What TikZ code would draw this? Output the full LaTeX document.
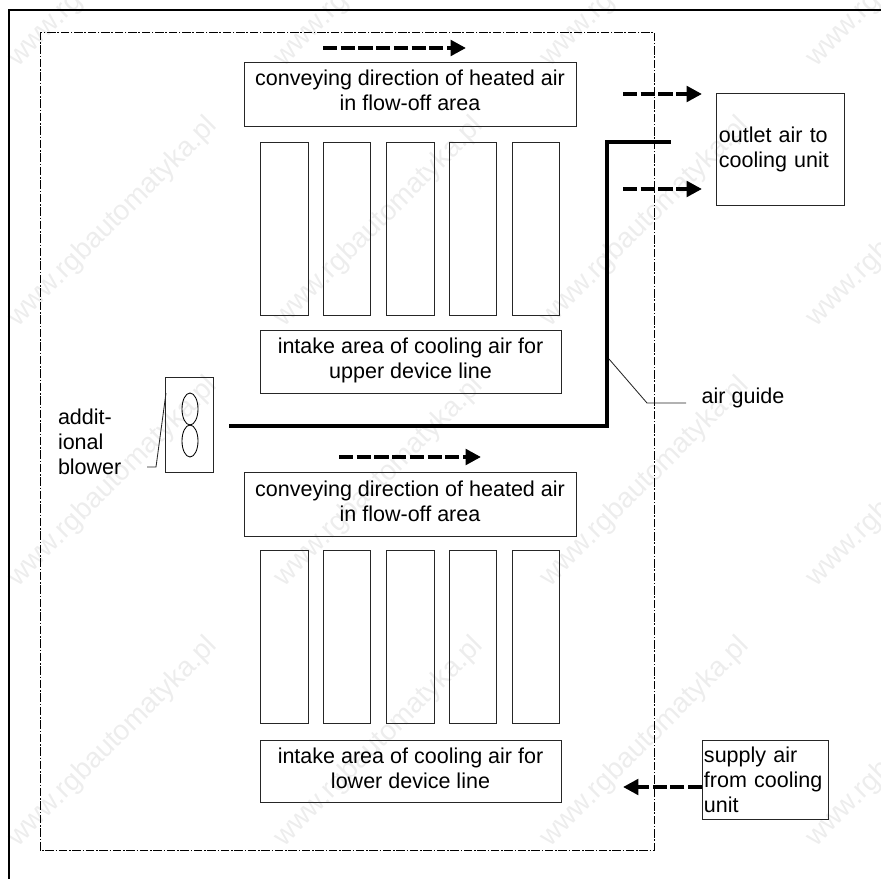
\documentclass[tikz,border=0pt]{standalone}
\usepackage{fontspec}
\setmainfont{Liberation Sans}
\usetikzlibrary{arrows.meta,positioning}
\tikzset{
  textbox/.style={draw=black!85,line width=.6pt,inner sep=0pt,outer sep=0pt,minimum width=8.3cm,minimum height=1.6cm,align=center,text depth=5pt},
  intakebox/.style={textbox,minimum width=7.52cm,minimum height=1.56cm},
  modulebox/.style={draw=black!85,line width=.6pt,inner sep=0pt,outer sep=0pt,minimum width=1.19cm,minimum height=4.32cm},
  sidebox/.style={draw=black!85,line width=.7pt,inner sep=0pt,outer sep=0pt,align=left},
  airflow/.style={-{Triangle[length=11pt,width=11pt]},line width=3pt,dash pattern=on 10pt off 2.6pt},
  airguide/.style={line width=3.2pt,miter limit=10},
  leader/.style={line width=.6pt,draw=black!85},
  label/.style={inner sep=0pt,outer sep=0pt,align=left},
  stamp/.style={rotate=45,text=black!7,font=\fontsize{20pt}{20pt}\selectfont,inner sep=0pt},
}
\begin{document}
\begin{tikzpicture}[x=.025cm,y=-.025cm,font=\fontsize{15.3pt}{17.7pt}\selectfont,>=Latex]
    \useasboundingbox (0,0) rectangle (881,879);
    % repeated web address behind the drawing
    \foreach \x in {113,379,645,911} {
      \foreach \y in {-38,222,482,742} {
        \node[stamp] (stamp\x\y) at (\x,\y) {www.rgbautomatyka.pl};
      }
    }
    % outer sheet edge and cabinet outline
    \draw[line width=1.6pt] (9,879) -- (9,10) -- (881,10);
    \draw[line width=.65pt,dash pattern=on 6pt off 1.2pt on 1.2pt off 1.2pt] (40,32) rectangle (654,850);
    % upper and lower device lines
    \foreach \i/\x in {1/284.5,2/347,3/410.5,4/473,5/536} {
      \node[modulebox] (upmod\i) at (\x,228.5) {};
      \node[modulebox] (lowmod\i) at (\x,637) {};
    }
    \node[textbox] (upconvey) at (410,94) {conveying direction of heated air\\in flow-off area};
    \node[textbox] (lowconvey) at (410,504.5) {conveying direction of heated air\\in flow-off area};
    \node[intakebox] (upintake) at (410.5,362) {intake area of cooling air for\\upper device line};
    \node[intakebox] (lowintake) at (410.5,771.5) {intake area of cooling air for\\lower device line};
    % side boxes
    \node[sidebox,minimum width=3.18cm,minimum height=2.78cm,text width=3.08cm] (outlet) at (780.5,149.5) {outlet air to\\cooling unit};
    \node[sidebox,minimum width=3.15cm,minimum height=1.96cm,text width=3.05cm] (supply) at (765,780) {supply air\\from cooling\\unit};
    \node[label] (airlabel) at (743,398) {air guide};
    \node[label,anchor=west] (blowerlabel) at (58,442) {addit-\\ional\\blower};
    % blower
    \node[modulebox,minimum height=2.36cm] (blower) at (189.5,425) {};
    \draw[line width=.6pt] (190,409) circle[x radius=8,y radius=16];
    \draw[line width=.6pt] (190,441) circle[x radius=8,y radius=16];
    % air guide
    \coordinate (guidestart) at (229,426);
    \coordinate (guidecorner) at (607,426);
    \coordinate (guidetop) at (607,142);
    \coordinate (guideend) at (671,142);
    \draw[airguide] (guidestart) -- (guidecorner) -- (guidetop) -- (guideend);
    % leaders
    \coordinate (guidetouch) at (609,359);
    \coordinate (guideknee) at (647,403);
    \coordinate (guidetail) at (686,403);
    \draw[leader] (guidetouch) -- (guideknee) -- (guidetail);
    \coordinate (blowertouch) at (166,393);
    \coordinate (blowerknee) at (156,467);
    \coordinate (blowertail) at (147,467);
    \draw[leader] (blowertouch) -- (blowerknee) -- (blowertail);
    % air flow
    \foreach \n/\xa/\ya/\xb in {a/323/48/466,b/339/457/481,c/623/94/702,d/623/189/702} {
      \coordinate (flow\n s) at (\xa,\ya);
      \coordinate (flow\n e) at (\xb,\ya);
      \draw[airflow] (flow\n s) -- (flow\n e);
    }
    \coordinate (supplyout) at (702,787);
    \coordinate (supplyin) at (623,787);
    \draw[airflow] (supplyout) -- (supplyin);
\end{tikzpicture}
\end{document}
